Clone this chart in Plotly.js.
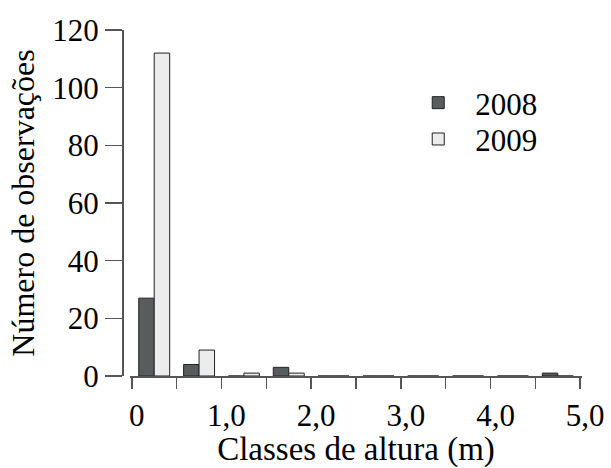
<!DOCTYPE html>
<html>
<head>
<meta charset="utf-8">
<script src="https://cdn.plot.ly/plotly-3.0.1.min.js"></script>
<style>html,body{margin:0;padding:0;background:#fff;}#chart{width:611px;height:468px;}</style>
</head>
<body>
<div id="chart"></div>
<script>
// Height classes (bin centres, m)
var classCentres = [0.25, 0.75, 1.25, 1.75, 2.25, 2.75, 3.25, 3.75, 4.25, 4.75];
var counts2008 = [27, 4, 0, 3, 0, 0, 0, 0, 0, 1];
var counts2009 = [112, 9, 1, 1, 0, 0, 0, 0, 0, 0];
var seriesNames = ['2008', '2009'];
var xTickVals = [0, 0.5, 1, 1.5, 2, 2.5, 3, 3.5, 4, 4.5, 5];
var xTickText = ['0', '', '1,0', '', '2,0', '', '3,0', '', '4,0', '', '5,0'];
var yTickVals = [0, 20, 40, 60, 80, 100, 120];

var font = 'Liberation Serif';
var axisCol = '#555';
var fs = 31;

var traces = [
  {type: 'bar', name: seriesNames[0], x: classCentres, y: counts2008, legend: 'legend',
   marker: {color: '#575c5d', line: {color: '#222', width: 1}}},
  {type: 'bar', name: seriesNames[1], x: classCentres, y: counts2009, legend: 'legend2',
   marker: {color: '#ececec', line: {color: '#222', width: 1}}}
];

var legendBase = {xanchor: 'left', yanchor: 'middle', itemwidth: 64,
  font: {family: font, size: fs, color: '#000'}, bgcolor: 'rgba(0,0,0,0)'};

var layout = {
  width: 611, height: 468,
  margin: {l: 122, r: 29, t: 30, b: 92},
  paper_bgcolor: '#fff', plot_bgcolor: '#fff',
  barmode: 'group', bargap: 0.31, bargroupgap: 0,
  font: {family: font, size: fs, color: '#000'},
  showlegend: true,
  legend: Object.assign({x: 0.607, y: 0.789}, legendBase),
  legend2: Object.assign({x: 0.607, y: 0.684}, legendBase),
  xaxis: {
    domain: [0.0174, 1], range: [-0.02, 5.02],
    tickmode: 'array', tickvals: xTickVals, ticktext: xTickText,
    ticks: 'outside', ticklen: 11, tickwidth: 1.5, tickcolor: axisCol,
    ticklabelshift: 5,
    showline: true, linecolor: axisCol, linewidth: 1.5,
    showgrid: false, zeroline: false,
    tickfont: {family: font, size: fs, color: '#000'},
    title: {text: 'Classes de altura (m)', font: {family: font, size: 33, color: '#000'}, standoff: 4}
  },
  yaxis: {
    anchor: 'free', position: 0, range: [0, 120],
    tickmode: 'array', tickvals: yTickVals,
    ticks: 'outside', ticklen: 17, tickwidth: 1.5, tickcolor: axisCol,
    showline: true, linecolor: axisCol, linewidth: 1.5,
    showgrid: false, zeroline: false,
    tickfont: {family: font, size: fs, color: '#000'},
    title: {text: 'Número de observações', font: {family: font, size: 32, color: '#000'}, standoff: 6}
  }
};

Plotly.newPlot('chart', traces, layout, {displayModeBar: false, staticPlot: true});
</script>
</body>
</html>
